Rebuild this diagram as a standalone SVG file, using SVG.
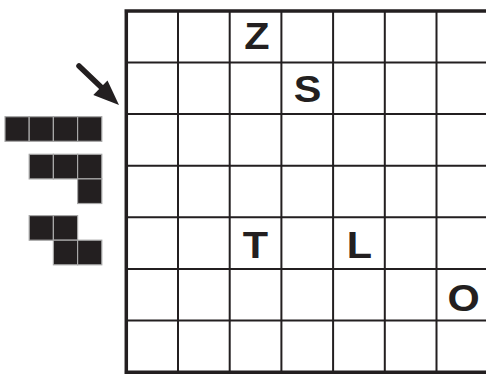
<svg xmlns="http://www.w3.org/2000/svg" width="486" height="374" viewBox="0 0 486 374">
<style>
.thin{stroke:#231f20;stroke-width:2;fill:none}
.thick{stroke:#231f20;stroke-width:3.5;fill:none}
.blk{fill:#231f20;stroke:#a7a7a7;stroke-width:1.2}
.lbl{font-family:"Liberation Sans",Arial,sans-serif;font-weight:bold;font-size:37px;fill:#231f20;text-anchor:middle}
</style>
<rect width="486" height="374" fill="#fff"/>
<g id="grid">
<path class="thin" d="M178 11V372M229.7 11V372M281.4 11V372M333.1 11V372M384.8 11V372M436.5 11V372"/>
<path class="thin" d="M126 62.6H486M126 114.1H486M126 165.7H486M126 217.3H486M126 268.9H486M126 320.4H486"/>
<path class="thick" d="M126.3 9.5V374M124.5 11H486M124.5 372.3H486"/>
</g>
<g id="labels">
<text class="lbl" transform="translate(257,49) scale(1.12,1)">Z</text>
<text class="lbl" transform="translate(307.5,101.5) scale(1.12,1)">S</text>
<text class="lbl" transform="translate(255.3,258.3) scale(1.12,1)">T</text>
<text class="lbl" transform="translate(359.5,258.3) scale(1.12,1)">L</text>
<text class="lbl" transform="translate(463.7,310.8) scale(1.12,1)">O</text>
</g>
<g id="connectors">
<line x1="79" y1="66" x2="101" y2="87" stroke="#231f20" stroke-width="5.5" stroke-linecap="round"/>
<polygon points="119,105 93.3,95 107.5,80.5" fill="#231f20"/>
</g>
<g id="piece-i">
<rect class="blk" x="5" y="116.7" width="24.2" height="24.6"/>
<rect class="blk" x="29.2" y="116.7" width="24.2" height="24.6"/>
<rect class="blk" x="53.4" y="116.7" width="24.2" height="24.6"/>
<rect class="blk" x="77.6" y="116.7" width="24.2" height="24.6"/>
</g>
<g id="piece-j">
<rect class="blk" x="29.2" y="154.3" width="24.2" height="24.6"/>
<rect class="blk" x="53.4" y="154.3" width="24.2" height="24.6"/>
<rect class="blk" x="77.6" y="154.3" width="24.2" height="24.6"/>
<rect class="blk" x="77.6" y="178.9" width="24.2" height="24.6"/>
</g>
<g id="piece-z">
<rect class="blk" x="29.2" y="215.6" width="24.2" height="24.6"/>
<rect class="blk" x="53.4" y="215.6" width="24.2" height="24.6"/>
<rect class="blk" x="53.4" y="240.2" width="24.2" height="24.6"/>
<rect class="blk" x="77.6" y="240.2" width="24.2" height="24.6"/>
</g>
</svg>
